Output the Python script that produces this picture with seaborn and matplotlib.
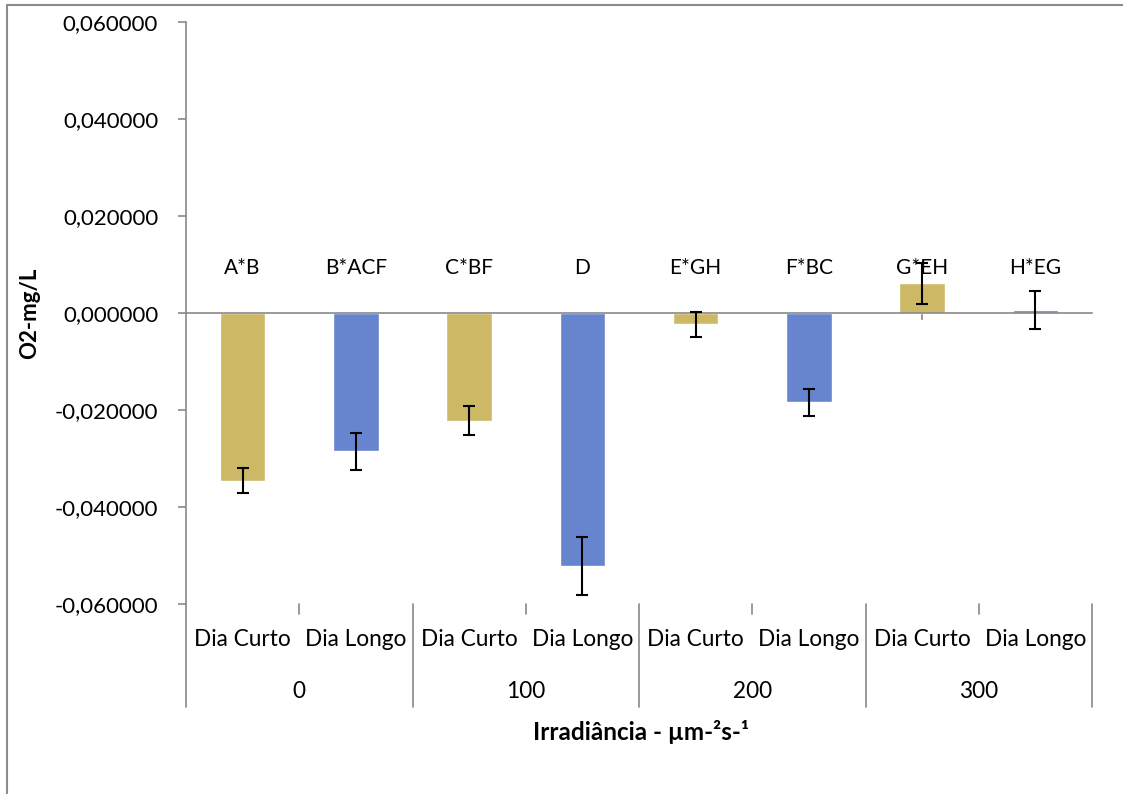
import matplotlib
matplotlib.use("Agg")
import matplotlib.pyplot as plt
from matplotlib.lines import Line2D
from matplotlib.ticker import FuncFormatter
import numpy as np
import pandas as pd
import seaborn as sns

# data
irradiance = ["0", "100", "200", "300"]
photoperiod = ["Dia Curto", "Dia Longo"]
o2_mean = [-0.0346, -0.0285, -0.0222, -0.0521, -0.0023, -0.0184, 0.0061, 0.0007]
o2_err = [0.0026, 0.0038, 0.0030, 0.0060, 0.0026, 0.0028, 0.0042, 0.0039]
letters = ["A*B", "B*ACF", "C*BF", "D", "E*GH", "F*BC", "G*EH", "H*EG"]

gold = "#CDB866"
blue = "#6685CE"
grey = "#898989"

slots = [f"{i}|{p}" for i in irradiance for p in photoperiod]
df = pd.DataFrame({
    "slot": slots,
    "photo": [p for i in irradiance for p in photoperiod],
    "o2": o2_mean,
    "err": o2_err,
})

sns.set_style("white")
plt.rcParams["font.family"] = ["Lato", "DejaVu Sans"]
plt.rcParams["text.color"] = "black"

fig = plt.figure(figsize=(11.23, 7.94), dpi=100)
ax = fig.add_axes([186 / 1123, 1 - 604 / 794, (1092 - 186) / 1123, (604 - 22) / 794])

sns.barplot(data=df, x="slot", y="o2", hue="photo", order=slots,
            palette={"Dia Curto": gold, "Dia Longo": blue}, saturation=1,
            dodge=False, width=0.4, errorbar=None, legend=False,
            ax=ax, zorder=2)
ax.errorbar(np.arange(len(slots)), df["o2"], yerr=df["err"], fmt="none",
            ecolor="black", elinewidth=1.5, capsize=4.5, capthick=1.5, zorder=4)

ax.set_xlim(-0.5, len(slots) - 0.5)
ax.set_ylim(-0.06, 0.06)
ax.set_yticks([-0.06, -0.04, -0.02, 0, 0.02, 0.04, 0.06])
ax.yaxis.set_major_formatter(FuncFormatter(lambda v, p: f"{v:.6f}".replace(".", ",")))
ax.tick_params(axis="y", direction="out", length=6, width=1.2, color=grey,
               labelsize=16, labelcolor="black", pad=14, left=True)
ax.tick_params(axis="x", direction="out", length=5, width=1.2, color=grey,
               labelbottom=False, bottom=True)
ax.set_xlabel("")
ax.set_ylabel("")

for s in ["top", "right"]:
    ax.spines[s].set_visible(False)
ax.spines["left"].set_color(grey)
ax.spines["left"].set_linewidth(1.2)
ax.spines["bottom"].set_position(("data", 0))
ax.spines["bottom"].set_color(grey)
ax.spines["bottom"].set_linewidth(1.2)
ax.spines["bottom"].set_zorder(3)

# significance letters above each bar
for i, lab in enumerate(letters):
    ax.text(i, 0.0093, lab, ha="center", va="center", fontsize=15, color="black")

# two-level category axis below the plot
tr = ax.get_xaxis_transform()
h_long = 103 / 582
h_short = 10 / 582
for i, s in enumerate(slots):
    ax.text(i, -36 / 582, s.split("|")[1], transform=tr, ha="center", va="center",
            fontsize=16.3, color="black", clip_on=False)
for g, irr in enumerate(irradiance):
    ax.text(2 * g + 0.5, -88 / 582, irr, transform=tr, ha="center", va="center",
            fontsize=16.3, color="black", clip_on=False)
    ax.plot([2 * g + 0.5, 2 * g + 0.5], [0, -h_short], transform=tr, color=grey,
            lw=1.2, clip_on=False)
for b in range(len(irradiance) + 1):
    ax.plot([2 * b - 0.5, 2 * b - 0.5], [0, -h_long], transform=tr, color=grey,
            lw=1.2, clip_on=False)

fig.text(641 / 1123, 1 - 732 / 794, "Irradiância - µm-²s-¹", ha="center", va="center",
         fontsize=17.5, fontweight="bold")
fig.text(30 / 1123, 1 - 313 / 794, "O2-mg/L", ha="center", va="center",
         rotation=90, fontsize=16, fontweight="bold")

# chart frame (left and top edges visible in the crop)
fig.add_artist(Line2D([7 / 1123, 7 / 1123], [0, 1 - 5 / 794], transform=fig.transFigure,
                      color="#8c8c8c", lw=1.5))
fig.add_artist(Line2D([7 / 1123, 1], [1 - 5 / 794, 1 - 5 / 794], transform=fig.transFigure,
                      color="#8c8c8c", lw=1.5))

fig.savefig("out.png", dpi=100)
